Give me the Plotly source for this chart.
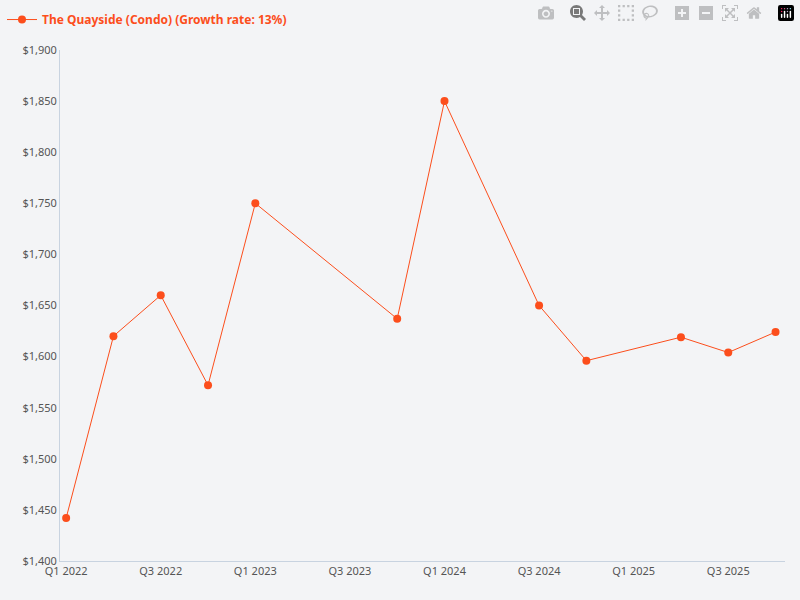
import plotly.graph_objects as go

quarters = ["Q1 2022","Q2 2022","Q3 2022","Q4 2022","Q1 2023","Q2 2023","Q3 2023","Q4 2023",
            "Q1 2024","Q2 2024","Q3 2024","Q4 2024","Q1 2025","Q2 2025","Q3 2025","Q4 2025"]
data_quarters = ["Q1 2022","Q2 2022","Q3 2022","Q4 2022","Q1 2023","Q4 2023","Q1 2024",
                 "Q3 2024","Q4 2024","Q2 2025","Q3 2025","Q4 2025"]
values = [1442, 1620, 1660, 1572, 1750, 1637, 1850, 1650, 1596, 1619, 1604, 1624]
tick_labels = quarters[::2]

idx = {q: i for i, q in enumerate(quarters)}
xs = [idx[q] for q in data_quarters]
color = "#fc4e1c"

fig = go.Figure(go.Scatter(
    x=xs, y=values, mode="lines+markers",
    name="<b>The Quayside (Condo) (Growth rate: 13%)</b>",
    line=dict(color=color, width=1), marker=dict(color=color, size=8),
    showlegend=True))

fig.update_layout(
    width=800, height=600, paper_bgcolor="#f3f4f6", plot_bgcolor="#f3f4f6",
    margin=dict(l=60, r=15, t=50, b=39, autoexpand=False),
    font=dict(family="Noto Sans", size=11, color="#555"),
    legend=dict(x=-0.08, y=1.088, xanchor="left", yanchor="top", orientation="h",
                font=dict(color=color, size=12, family="Noto Sans"),
                itemwidth=30, bgcolor="rgba(0,0,0,0)"),
    xaxis=dict(range=[-0.13, 15.2], tickvals=[idx[q] for q in tick_labels], ticktext=tick_labels,
               showgrid=False, zeroline=False, showline=True, linecolor="#c8d3e0", ticks=""),
    yaxis=dict(range=[1400, 1900], dtick=50, tickprefix="$", tickformat=",",
               showgrid=False, zeroline=False, showline=True, linecolor="#c8d3e0"),
)
fig.write_html("out.html", post_script="document.body.style.margin='0';")
